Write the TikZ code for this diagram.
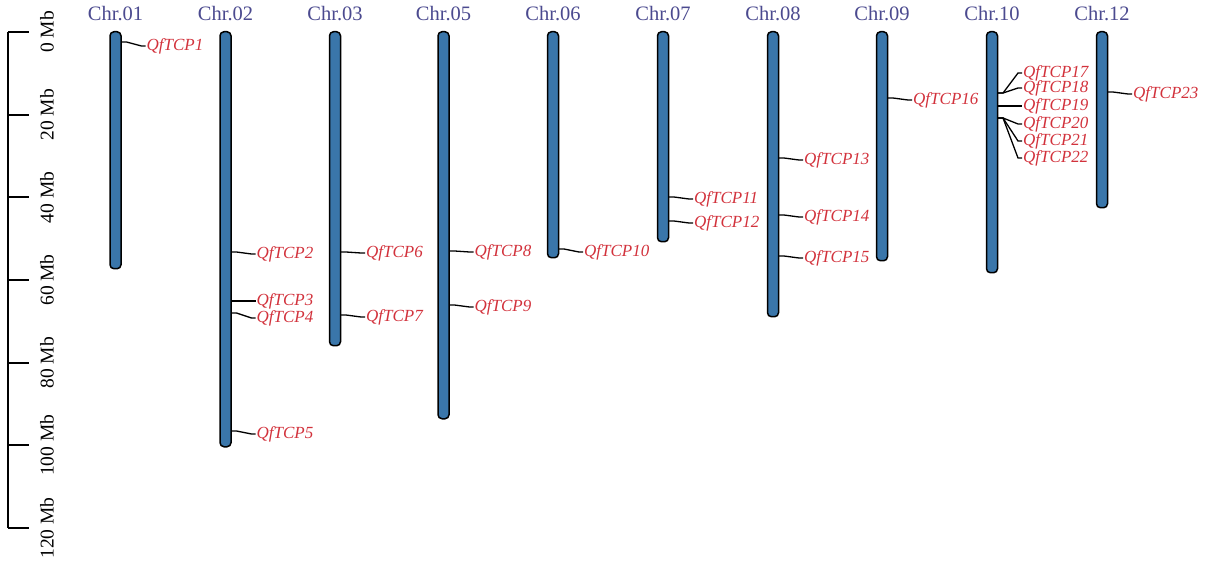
\documentclass[tikz,border=0pt]{standalone}
\usepackage{fontspec}
\setmainfont{Liberation Serif}
\definecolor{chrblue}{HTML}{3A76AA}
\definecolor{chrname}{HTML}{4B4A8F}
\definecolor{genered}{HTML}{D2323C}
\begin{document}
\begin{tikzpicture}[x=1pt, y=-1pt,
    chrbar/.style = {rectangle, rounded corners=4pt, draw=black, line width=1.5pt, fill=chrblue, minimum width=11pt, inner sep=0pt, anchor=north},
    chrtext/.style = {text=chrname, font=\fontsize{20.5}{20.5}\selectfont, inner sep=0pt},
    gene/.style = {text=genered, font=\fontsize{17}{17}\selectfont\itshape, inner sep=1pt, anchor=west},
    link/.style = {line width=1.3pt, black}]
    \useasboundingbox (0,0) rectangle (1205,561);
    % scale bar
    \draw[line width=2pt] (8,32) -- (8,528);
    \foreach \m in {0,20,...,120} {
        \draw[line width=2pt] (8,32+4.1333*\m) -- ++(21,0);
        \node[rotate=90, font=\fontsize{19.5}{19.5}\selectfont, inner sep=0pt] (s\m) at (47,32+4.1333*\m) {\m\ Mb};
    }
    % chromosomes
    \foreach \px/\pb/\pn in {115.5/269/01, 225.5/447/02, 335/346/03, 443.5/419/05, 553/258/06,
                             663/242/07, 773/317/08, 882/261/09, 992/273/10, 1102/208/12}
        \node[chrbar, minimum height=\pb pt-32pt, label={[chrtext, label distance=10pt]90:Chr.\pn}] (c\pn) at (\px,31) {};
    % genes
    \foreach \n/\px/\g/\l in {1/115.5/42/46, 2/225.5/252/254, 3/225.5/301/301, 4/225.5/313/318,
                              5/225.5/431/434, 6/335/252/253, 7/335/315/317, 8/443.5/251/252,
                              9/443.5/305/307, 10/553/249/252, 11/663/197/199, 12/663/221/223,
                              13/773/158/160, 14/773/215/217, 15/773/256/258, 16/882/98/100,
                              17/992/93/73, 18/992/93/88, 19/992/106/106, 20/992/118/124,
                              21/992/118/141, 22/992/118/158, 23/1102/92/94} {
        \coordinate (g\n) at (\px+6,\g);
        \node[gene] (t\n) at (\px+30,\l) {QfTCP\n};
        \draw[link] (g\n) -- ++(5,0) -- ([xshift=-4pt]t\n.west) -- (t\n.west);
    }
\end{tikzpicture}
\end{document}
